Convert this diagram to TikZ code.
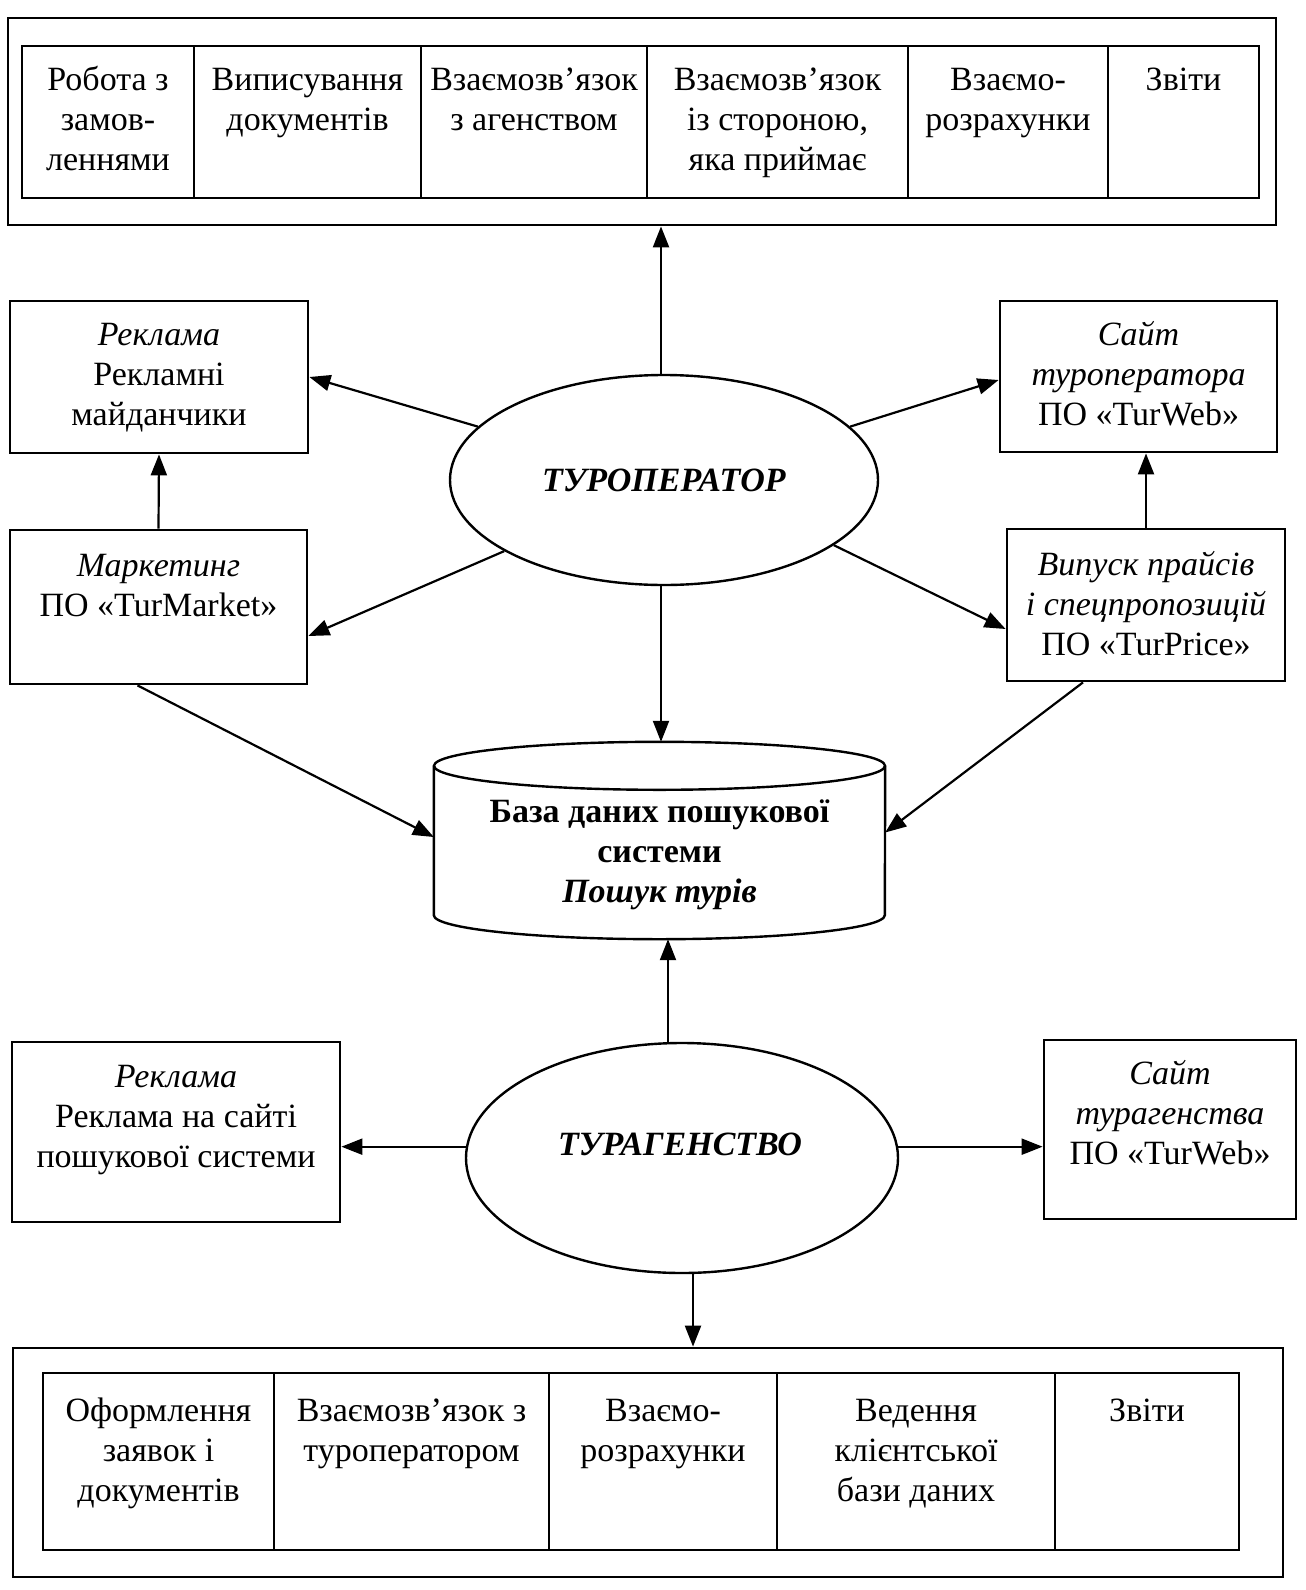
\documentclass[tikz,border=0pt]{standalone}
\usepackage{fontspec}
\setmainfont{Liberation Serif}
\usetikzlibrary{arrows.meta,shapes.geometric,calc}
\newcommand\fs{\fontsize{34}{40}\selectfont}
\begin{document}
\begin{tikzpicture}[x=1pt,y=-1pt,
  every node/.style={font=\fs, inner sep=0pt},
  frame/.style={draw, line width=2.8pt, rectangle},
  cell/.style={draw, line width=2.6pt, rectangle},
  txt/.style={align=center, anchor=north},
  arr/.style={line width=2.2pt, -{Triangle[length=21pt,width=16pt]}},
  oval/.style={draw, ellipse, line width=2.4pt}
]
\fill[white] (0,0) rectangle (1306,1590);
\useasboundingbox (0,0) rectangle (1306,1590);

% top block
\node[frame, minimum width=1268pt, minimum height=207pt] (topo) at (642,121.5) {};
\node[cell, minimum width=172pt, minimum height=152pt] (c1) at (108,122) {};
\node[cell, minimum width=227pt, minimum height=152pt] (c2) at (307.5,122) {};
\node[cell, minimum width=226pt, minimum height=152pt] (c3) at (534,122) {};
\node[cell, minimum width=261pt, minimum height=152pt] (c4) at (777.5,122) {};
\node[cell, minimum width=200pt, minimum height=152pt] (c5) at (1008,122) {};
\node[cell, minimum width=151pt, minimum height=152pt] (c6) at (1183.5,122) {};
\node[txt] (t1) at (108,62) {\strut Робота з\\замов-\\леннями};
\node[txt] (t2) at (307.5,62) {\strut Виписування\\документів};
\node[txt] (t3) at (534,62) {\strut Взаємозв’язок\\з агенством};
\node[txt] (t4) at (777.5,62) {\strut Взаємозв’язок\\із стороною,\\яка приймає};
\node[txt] (t5) at (1008,62) {\strut Взаємо-\\розрахунки};
\node[txt] (t6) at (1183.5,62) {\strut Звіти};

% operator level
\node[frame, minimum width=298pt, minimum height=152pt] (rek1) at (159,377) {};
\node[txt] (rek1t) at (159,317) {\strut\textit{Реклама}\\Рекламні\\майданчики};
\node[frame, minimum width=297pt, minimum height=154pt] (mark) at (158.5,607) {};
\node[txt] (markt) at (158.5,548) {\strut\textit{Маркетинг}\\ПО «TurMarket»};
\node[frame, minimum width=277pt, minimum height=151pt] (sayt1) at (1138.5,376.5) {};
\node[txt] (sayt1t) at (1138.5,317) {\strut\textit{Сайт}\\\textit{туроператора}\\ПО «TurWeb»};
\node[frame, minimum width=278pt, minimum height=152pt] (vyp) at (1146,605) {};
\node[txt] (vypt) at (1146,547) {\strut\textit{Випуск прайсів}\\\textit{і спецпропозицій}\\ПО «TurPrice»};
\node[oval, minimum width=428pt, minimum height=210pt] (tur) at (664,480) {\textbf{\textit{ТУРОПЕРАТОР}}};

% database
\node[minimum width=451pt, minimum height=149pt] (db) at (659.5,840.5) {};
\draw[line width=2.4pt] (db.north west) -- (db.south west)
  arc[start angle=180, end angle=360, x radius=225.5pt, y radius=24pt] -- (db.north east);
\draw[line width=2.4pt] (db.north) ellipse[x radius=225.5pt, y radius=24pt];
\node[txt] (dbt) at (659.5,794) {\strut\textbf{База даних пошукової}\\\textbf{системи}\\\textbf{\textit{Пошук турів}}};
\coordinate (dbtop) at ($(db.north)+(0,-24)$);
\coordinate (dbbot) at ($(db.south)+(0,24)$);

% agency level
\node[oval, minimum width=432pt, minimum height=230pt] (turag) at (682,1158) {};
\node (turagt) at (680,1144) {\textbf{\textit{ТУРАГЕНСТВО}}};
\node[frame, minimum width=328pt, minimum height=180pt] (rek2) at (176,1132) {};
\node[txt] (rek2t) at (176,1059) {\strut\textit{Реклама}\\Реклама на сайті\\пошукової системи};
\node[frame, minimum width=252pt, minimum height=179pt] (sayt2) at (1170,1129.5) {};
\node[txt] (sayt2t) at (1170,1056) {\strut\textit{Сайт}\\\textit{турагенства}\\ПО «TurWeb»};

% bottom block
\node[frame, minimum width=1270pt, minimum height=229pt] (boto) at (648,1462.5) {};
\node[cell, minimum width=231pt, minimum height=177pt] (b1) at (158.5,1461.5) {};
\node[cell, minimum width=275pt, minimum height=177pt] (b2) at (411.5,1461.5) {};
\node[cell, minimum width=228pt, minimum height=177pt] (b3) at (663,1461.5) {};
\node[cell, minimum width=278pt, minimum height=177pt] (b4) at (916,1461.5) {};
\node[cell, minimum width=184pt, minimum height=177pt] (b5) at (1147,1461.5) {};
\node[txt] (bt1) at (158.5,1393) {\strut Оформлення\\заявок і\\документів};
\node[txt] (bt2) at (411.5,1393) {\strut Взаємозв’язок з\\туроператором};
\node[txt] (bt3) at (663,1393) {\strut Взаємо-\\розрахунки};
\node[txt] (bt4) at (916,1393) {\strut Ведення\\клієнтської\\бази даних};
\node[txt] (bt5) at (1147,1393) {\strut Звіти};

% connectors
\coordinate (tn) at ($(tur.north)+(-3,0)$);
\draw[arr] (tn) -- (tn |- topo.south);
\draw[arr] (tur.164) -- (rek1.east);
\draw[arr] (tur.204) -- ($(mark.east)+(0,29)$);
\draw[arr] (tur.16) -- ($(sayt1.west)+(0,3.5)$);
\draw[arr] (tur.339) -- ($(vyp.west)+(0,24)$);
\draw[arr] (mark.north) -- (rek1.south);
\draw[arr] (vyp.north) -- (vyp.north |- sayt1.south);
\coordinate (ts) at ($(tur.south)+(-3,0)$);
\draw[arr] (ts) -- (ts |- dbtop);
\draw[arr] ($(mark.south)+(-21,0)$) -- ($(db.west)+(0,-3.5)$);
\draw[arr] ($(vyp.south)+(-63,0)$) -- ($(db.east)+(0,-8)$);
\coordinate (tt) at ($(turag.north)+(-14,0)$);
\draw[arr] (tt) -- (tt |- dbbot);
\draw[arr] (turag.177) -- (turag.177 -| rek2.east);
\draw[arr] (turag.3) -- (turag.3 -| sayt2.west);
\coordinate (tb) at ($(turag.south)+(11,0)$);
\draw[arr] (tb) -- (tb |- boto.north);
\end{tikzpicture}
\end{document}
